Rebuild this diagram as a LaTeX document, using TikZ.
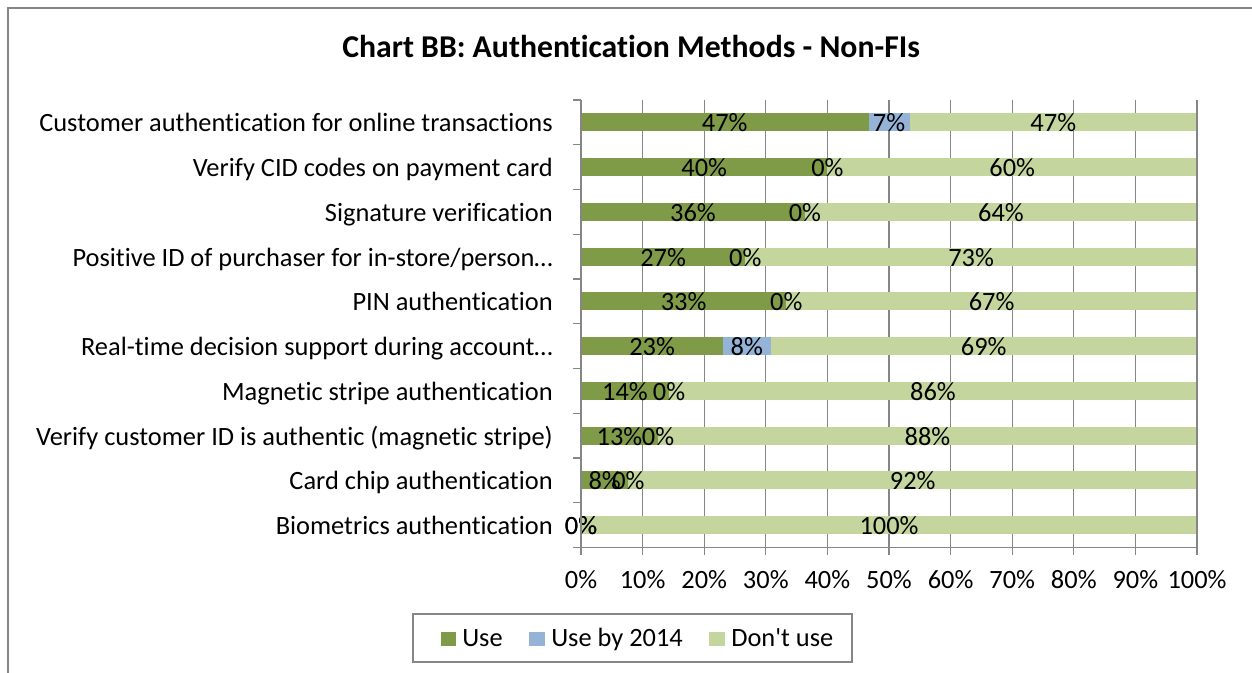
\documentclass[tikz,border=0pt]{standalone}
\usepackage{fontspec}
\newfontfamily\chartfont{Carlito}[Ligatures=NoCommon]
\usepackage{tikz}

\definecolor{usegreen}{HTML}{7F9B48}
\definecolor{soonblue}{HTML}{95B3D7}
\definecolor{nogreen}{HTML}{C4D69E}
\definecolor{framegray}{HTML}{868686}

\begin{document}
\begin{tikzpicture}[
    x=0.75pt, y=-0.75pt,
    font=\chartfont\fontsize{19.8}{23}\selectfont,
    frame/.style={draw=framegray, line width=1.1pt},
    grid/.style={draw=framegray, line width=0.9pt},
    axis/.style={draw=framegray, line width=0.9pt},
    val/.style={inner sep=0pt, anchor=base},
    cat/.style={inner sep=0pt, anchor=base east},
    tick/.style={inner sep=0pt, anchor=base},
    legtext/.style={inner sep=0pt, anchor=base west}
]
\useasboundingbox (0,0) rectangle (1252,673);

% outer frame (cut at the right and bottom)
\draw[frame] (8,673) -- (8,8) -- (1252,8);

% title
\node[inner sep=0pt, anchor=base, font=\chartfont\bfseries\fontsize{23.8}{28}\selectfont]
    (title) at (631,58) {Chart BB: Authentication Methods - Non-FIs};

% gridlines and x tick labels
\foreach \k in {0,...,10} {
  \draw[grid] ({581+61.6*\k},100) -- ({581+61.6*\k},555);
  \node[tick] (xt\k) at ({581+61.6*\k},588) {\the\numexpr10*\k\relax\%};
}

% stacked bars: use / use by 2014 / don't use
\foreach \name/\a/\b/\ta/\tb/\tc [count=\i] in {
    {Customer authentication for online transactions}/46.67/6.67/47/7/47,
    {Verify CID codes on payment card}/40/0/40/0/60,
    {Signature verification}/36.36/0/36/0/64,
    {Positive ID of purchaser for in-store/person…}/26.67/0/27/0/73,
    {PIN authentication}/33.33/0/33/0/67,
    {Real-time decision support during account…}/23.08/7.69/23/8/69,
    {Magnetic stripe authentication}/14.29/0/14/0/86,
    {Verify customer ID is authentic (magnetic stripe)}/12.5/0/13/0/88,
    {Card chip authentication}/7.69/0/8/0/92,
    {Biometrics authentication}/0/0/0/0/100} {
  \pgfmathsetmacro\yc{100+44.75*(\i-0.5)}
  \pgfmathsetmacro\xa{581+6.16*\a}
  \pgfmathsetmacro\xb{581+6.16*(\a+\b)}
  \fill[usegreen] (581,\yc-9) rectangle (\xa,\yc+9);
  \fill[soonblue] (\xa,\yc-9) rectangle (\xb,\yc+9);
  \fill[nogreen] (\xb,\yc-9) rectangle (1196,\yc+9);
  \node[val] (va\i) at ({(581+\xa)/2},\yc+9.5) {\ta\%};
  \node[val] (vb\i) at ({(\xa+\xb)/2},\yc+9.5) {\tb\%};
  \node[val] (vc\i) at ({(\xb+1197)/2},\yc+9.5) {\tc\%};
  \node[cat] (cat\i) at (553,\yc+9.5) {\name};
}

% axes with category ticks
\draw[axis] (581,100) -- (581,547.5);
\draw[axis] (573,547.5) -- (1197,547.5);
\foreach \k in {0,...,9}
  \draw[axis] (573,{100+44.75*\k}) -- (581,{100+44.75*\k});

% legend
\draw[frame, line width=0.9pt] (413,614) rectangle (852,662);
\fill[usegreen] (441,632) rectangle (456,646);
\node[legtext] (leguse) at (462,646) {Use};
\fill[soonblue] (529,632) rectangle (545,646);
\node[legtext] (legsoon) at (551,646) {Use by 2014};
\fill[nogreen] (709,632) rectangle (725,646);
\node[legtext] (legno) at (731,646) {Don't use};

\end{tikzpicture}
\end{document}
